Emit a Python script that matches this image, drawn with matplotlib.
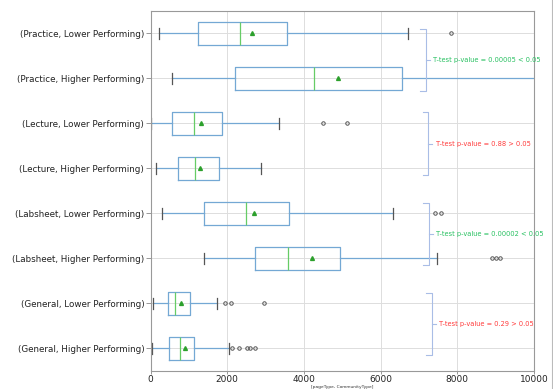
import matplotlib
matplotlib.use("Agg")
import matplotlib.pyplot as plt
from matplotlib.lines import Line2D

# Groups, listed bottom to top
groups = [
    "(General, Higher Performing)",
    "(General, Lower Performing)",
    "(Labsheet, Higher Performing)",
    "(Labsheet, Lower Performing)",
    "(Lecture, Higher Performing)",
    "(Lecture, Lower Performing)",
    "(Practice, Higher Performing)",
    "(Practice, Lower Performing)",
]
whisker_low = [47, 73, 1404, 308, 152, 25, 561, 230]
q1 = [490, 465, 2734, 1404, 709, 569, 2195, 1247]
median = [761, 647, 3577, 2490, 1169, 1143, 4272, 2342]
mean = [908, 795, 4203, 2707, 1300, 1317, 4898, 2647]
q3 = [1143, 1038, 4941, 3612, 1795, 1856, 6550, 3568]
whisker_high = [2039, 1742, 7471, 6332, 2873, 3359, 11200, 6723]
outliers = [
    [2133, 2308, 2524, 2602, 2733],
    [1934, 2091, 2967],
    [8914, 9009, 9113],
    [7418, 7575],
    [],
    [4490, 5116],
    [],
    [7836],
]

# T-test results per page type
ttest_labels = [
    "T-test p-value = 0.29 > 0.05",
    "T-test p-value = 0.00002 < 0.05",
    "T-test p-value = 0.88 > 0.05",
    "T-test p-value = 0.00005 < 0.05",
]
ttest_significant = [False, True, False, True]

xticks = [0, 2000, 4000, 6000, 8000, 10000]

fig = plt.figure(figsize=(5.53, 3.89), dpi=100)
ax = fig.add_axes([0.2722, 0.0468, 0.6934, 0.9254])

stats = []
for i, g in enumerate(groups):
    stats.append(dict(label=g, whislo=whisker_low[i], q1=q1[i], med=median[i],
                      mean=mean[i], q3=q3[i], whishi=whisker_high[i],
                      fliers=outliers[i]))

blue = "#74a8d4"
ax.bxp(stats, positions=range(1, len(groups) + 1), vert=False, widths=0.5,
       showmeans=True, manage_ticks=False,
       boxprops=dict(color=blue, linewidth=0.9),
       whiskerprops=dict(color=blue, linewidth=0.9),
       capprops=dict(color="#555555", linewidth=0.9),
       medianprops=dict(color="#66cc66", linewidth=0.9),
       meanprops=dict(marker="^", markerfacecolor="#2ca02c",
                      markeredgecolor="#2ca02c", markersize=2.8),
       flierprops=dict(marker="o", markerfacecolor="none",
                       markeredgecolor="#555555", markersize=2.5,
                       markeredgewidth=0.7))

ax.set_xlim(0, 10000)
ax.set_ylim(0.5, len(groups) + 0.5)
ax.set_yticks(range(1, len(groups) + 1))
ax.set_yticklabels(groups, fontsize=6.3, color="#222222")
ax.set_xticks(xticks)
ax.set_xticklabels([str(t) for t in xticks], fontsize=6.5, color="#222222")
ax.tick_params(axis="y", length=3.5, width=0.6, color="#888888", pad=1)
ax.tick_params(axis="x", length=2, width=0.6, color="#888888", pad=1)
ax.grid(True, color="#dddddd", linewidth=0.7)
ax.set_axisbelow(True)
for s in ax.spines.values():
    s.set_color("#999999")
    s.set_linewidth(0.8)
ax.set_xlabel("[pageType, CommunityType]", fontsize=3.2, labelpad=1,
              color="#333333")

# Curly brackets pairing the two groups of each page type
bcol = "#a9bde6"
bracket_left = [7184, 7106, 7098, 7027]
bracket_span = [(0.844, 2.222), (2.844, 4.236), (4.858, 6.244), (6.72, 8.096)]
w = 145
for label, sig, bx, (y0, y1) in zip(ttest_labels, ttest_significant,
                                    bracket_left, bracket_span):
    ym = (y0 + y1) / 2
    ax.plot([bx, bx + w, bx + w, bx], [y1, y1, y0, y0], color=bcol,
            lw=0.8, clip_on=False, solid_joinstyle="round")
    ax.plot([bx + w, bx + w + 110], [ym, ym], color=bcol, lw=0.8,
            clip_on=False)
    ax.text(bx + w + 190, ym, label, fontsize=4.8, va="center", ha="left",
            color="#27c060" if sig else "#ff3b3b", clip_on=False)

fig.add_artist(Line2D([551.5 / 553, 551.5 / 553], [0, 1], color="#bbbbbb",
                      lw=0.8))

fig.savefig("out.png", dpi=100, facecolor="white")
